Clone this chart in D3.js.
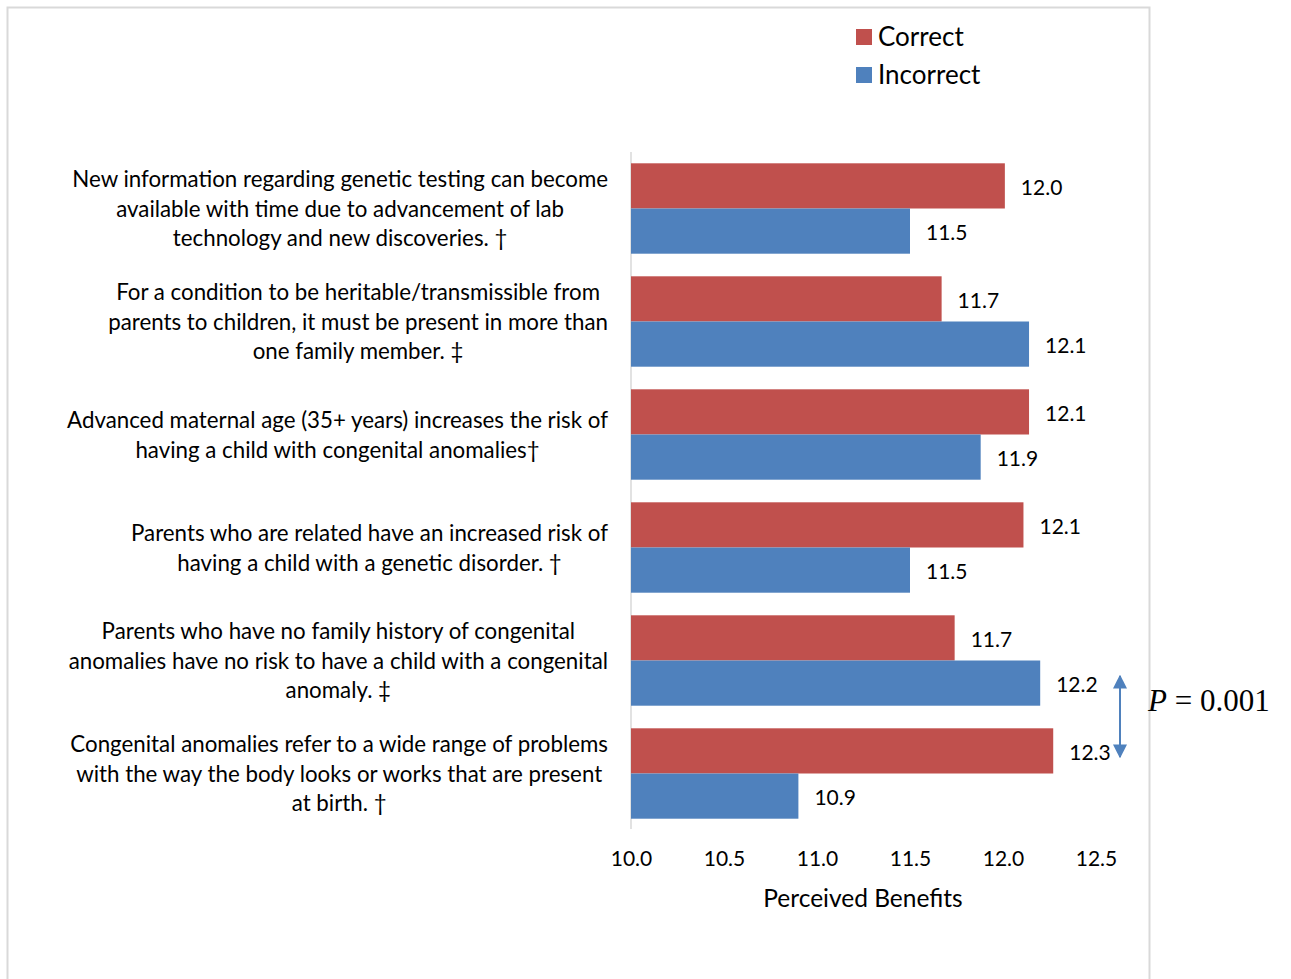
<!DOCTYPE html>
<html>
<head>
<meta charset="utf-8">
<script src="https://cdn.jsdelivr.net/npm/d3@7"></script>
<style>
  body { margin: 0; background: #fff; }
  text { font-family: Lato, "Open Sans", sans-serif; fill: #000; }
</style>
</head>
<body>
<svg id="chart" width="1291" height="979"></svg>
<script>
// statements, top to bottom, as wrapped in the original
var statements = [
  ["New information regarding genetic testing can become", "available with time due to advancement of lab", "technology and new discoveries. \u2020"],
  ["For a condition to be heritable/transmissible from", "parents to children, it must be present in more than", "one family member. \u2021"],
  ["Advanced maternal age (35+ years) increases the risk of", "having a child with congenital anomalies\u2020"],
  ["Parents who are related have an increased risk of", "having a child with a genetic disorder. \u2020"],
  ["Parents who have no family history of congenital", "anomalies have no risk to have a child with a congenital", "anomaly. \u2021"],
  ["Congenital anomalies refer to a wide range of problems", "with the way the body looks or works that are present", "at birth. \u2020"]
]
var correct = [12.01, 11.67, 12.14, 12.11, 11.74, 12.27]
var incorrect = [11.5, 12.14, 11.88, 11.5, 12.2, 10.9]
var seriesNames = ["Correct", "Incorrect"]
var seriesColors = ["#c0504d", "#4f81bd"]
var xTicks = [10.0, 10.5, 11.0, 11.5, 12.0, 12.5]
var pLabel = "0.001"

var svg = d3.select("#chart")

// outer frame
svg.append("rect")
    .attr("x", 7.5).attr("y", 7.5)
    .attr("width", 1142).attr("height", 990)
    .attr("fill", "none").attr("stroke", "#d9d9d9").attr("stroke-width", 2)

var x = d3.scaleLinear().domain([10, 12.5]).range([631, 1096])
var y = d3.scaleBand().domain(d3.range(statements.length)).range([152, 830]).paddingInner(0.2).paddingOuter(0.1)
var sub = d3.scaleBand().domain([0, 1]).range([0, y.bandwidth()])

// category axis line
svg.append("line")
    .attr("x1", 631).attr("x2", 631).attr("y1", 152).attr("y2", 829)
    .attr("stroke", "#d9d9d9").attr("stroke-width", 1.5)

var rows = d3.range(statements.length).map(function(i) {
    return { i: i, vals: [correct[i], incorrect[i]] }
})

var group = svg.selectAll("g.row")
    .data(rows)
    .enter().append("g")
        .attr("class", "row")
        .attr("transform", function(d) { return "translate(0," + y(d.i) + ")" })

group.selectAll("rect")
    .data(function(d) { return d.vals })
    .enter().append("rect")
        .attr("x", x(10))
        .attr("y", function(d, j) { return sub(j) })
        .attr("width", function(d) { return x(d) - x(10) })
        .attr("height", sub.bandwidth())
        .attr("fill", function(d, j) { return seriesColors[j] })

group.selectAll("text.val")
    .data(function(d) { return d.vals })
    .enter().append("text")
        .attr("class", "val")
        .attr("x", function(d) { return x(d) + 16 })
        .attr("y", function(d, j) { return sub(j) + sub.bandwidth() / 2 + 1.5 })
        .attr("dy", "0.35em")
        .style("font-size", "21px")
        .text(function(d) { return d3.format(".1f")(d) })

// statement labels: each block centred, widest line ending at the axis gap
var lineH = 29.5
var labelRight = 608
svg.selectAll("text.cat")
    .data(statements)
    .enter().append("text")
        .attr("class", "cat")
        .attr("text-anchor", "middle")
        .style("font-size", "22.3px")
        .each(function(lines, i) {
            var el = d3.select(this)
            var cy = y(i) + y.bandwidth() / 2 + 0.5
            var top = cy - (lines.length - 1) * lineH / 2
            var spans = el.selectAll("tspan")
                .data(lines)
                .enter().append("tspan")
                    .attr("y", function(l, k) { return top + k * lineH })
                    .attr("dy", "0.35em")
                    .text(function(l) { return l })
            var widest = d3.max(spans.nodes(), function(n) { return n.getComputedTextLength() })
            spans.attr("x", labelRight - widest / 2)
        })

// value axis (labels only)
var xAxis = svg.append("g")
    .attr("transform", "translate(0,846)")
    .call(d3.axisBottom(x).tickValues(xTicks).tickFormat(d3.format(".1f")).tickSize(0).tickPadding(0))
xAxis.select(".domain").remove()
xAxis.selectAll("text")
    .attr("dy", "0.35em").attr("y", 13)
    .style("font-size", "21px").style("font-family", "Lato, 'Open Sans', sans-serif").attr("fill", "#000")

svg.append("text")
    .attr("x", 863).attr("y", 898)
    .attr("dy", "0.35em")
    .attr("text-anchor", "middle")
    .style("font-size", "24.5px")
    .text("Perceived Benefits")

// legend
var legend = svg.selectAll("g.legend")
    .data(seriesNames)
    .enter().append("g")
        .attr("class", "legend")
        .attr("transform", function(d, i) { return "translate(856," + (29 + i * 38) + ")" })
legend.append("rect")
    .attr("width", 16).attr("height", 16)
    .attr("fill", function(d, i) { return seriesColors[i] })
legend.append("text")
    .attr("x", 22).attr("y", 8).attr("dy", "0.35em")
    .style("font-size", "26px")
    .text(function(d) { return d })

// significance arrow between the last two groups
var arrowX = 1120
var defs = svg.append("defs")
defs.append("marker")
    .attr("id", "head")
    .attr("viewBox", "0 0 10 10")
    .attr("refX", 9).attr("refY", 5)
    .attr("markerWidth", 7).attr("markerHeight", 7)
    .attr("markerUnits", "strokeWidth")
    .attr("orient", "auto-start-reverse")
    .append("path").attr("d", "M0,0 L10,5 L0,10 z").attr("fill", "#4f81bd")
svg.append("line")
    .attr("x1", arrowX).attr("x2", arrowX)
    .attr("y1", 676).attr("y2", 757)
    .attr("stroke", "#4f81bd").attr("stroke-width", 2)
    .attr("marker-start", "url(#head)")
    .attr("marker-end", "url(#head)")

var pText = svg.append("text")
    .attr("x", 1148).attr("y", 711)
    .style("font-family", "'Liberation Serif', 'Times New Roman', serif")
    .style("font-size", "31px")
pText.append("tspan").style("font-style", "italic").style("font-family", "'Liberation Serif', serif").text("P")
pText.append("tspan").style("font-family", "'Liberation Serif', serif").text(" = " + pLabel)
</script>
</body>
</html>
